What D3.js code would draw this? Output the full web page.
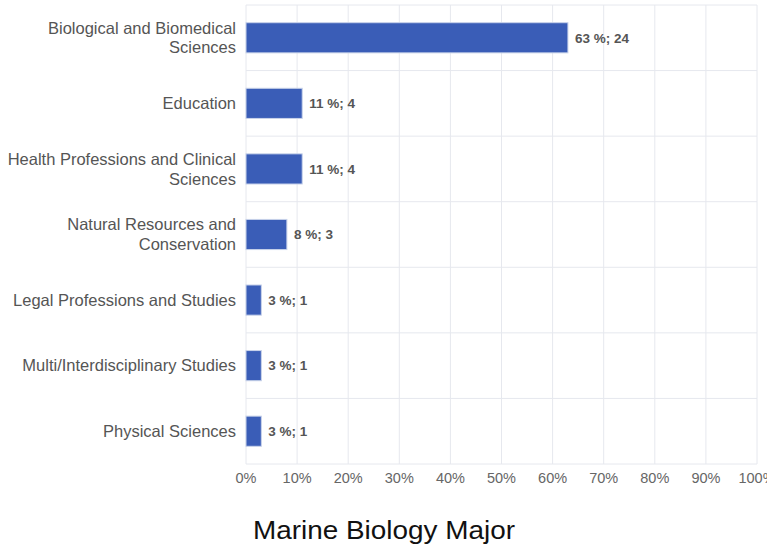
<!DOCTYPE html>
<html><head><meta charset="utf-8">
<script src="https://cdn.jsdelivr.net/npm/d3@7"></script>
<style>body{margin:0;background:#fff;font-family:Arial,"Liberation Sans",sans-serif;}</style>
</head><body><svg id="c" width="767" height="548"></svg>
<script>
const categories = [
  ["Biological and Biomedical","Sciences"],
  ["Education"],
  ["Health Professions and Clinical","Sciences"],
  ["Natural Resources and","Conservation"],
  ["Legal Professions and Studies"],
  ["Multi/Interdisciplinary Studies"],
  ["Physical Sciences"]
];
const percents = [63, 11, 11, 8, 3, 3, 3];
const counts = [24, 4, 4, 3, 1, 1, 1];
const xTicks = [0,10,20,30,40,50,60,70,80,90,100];
const title = "Marine Biology Major";

const svg = d3.select("#c");
const L = 246, R = 757, T = 5, B = 464;
const x = d3.scaleLinear().domain([0,100]).range([L,R]);
const y = d3.scaleBand().domain(d3.range(categories.length)).range([T,B]).paddingInner(0.54).paddingOuter(0.27);

// vertical grid
svg.append("g").selectAll("line").data(xTicks).join("line")
  .attr("x1",d=>x(d)).attr("x2",d=>x(d)).attr("y1",T).attr("y2",B)
  .attr("stroke","#e6e8ee").attr("stroke-width",1);
// horizontal grid at band boundaries
const bounds = d3.range(categories.length+1).map(i=>T + i*(B-T)/categories.length);
svg.append("g").selectAll("line").data(bounds).join("line")
  .attr("x1",L).attr("x2",R).attr("y1",d=>d).attr("y2",d=>d)
  .attr("stroke","#e6e8ee").attr("stroke-width",1);

// bars
svg.append("g").selectAll("rect").data(percents).join("rect")
  .attr("x",L).attr("y",(d,i)=>y(i)).attr("width",d=>x(d)-L).attr("height",y.bandwidth())
  .attr("fill","#3a5db7").attr("stroke","#c9d3ea").attr("stroke-width",1);

// value labels
svg.append("g").selectAll("text").data(percents).join("text")
  .attr("x",d=>x(d)+7).attr("y",(d,i)=>y(i)+y.bandwidth()/2)
  .attr("dy","0.35em").attr("font-size",13.5).attr("font-weight","bold").attr("fill","#555")
  .text((d,i)=>d+" %; "+counts[i]);

// category labels
const cl = svg.append("g").selectAll("text").data(categories).join("text")
  .attr("text-anchor","end").attr("font-size",16.5).attr("fill","#555")
  .attr("x",236)
  .attr("y",(d,i)=>y(i)+y.bandwidth()/2);
cl.each(function(lines){
  const t = d3.select(this);
  const n = lines.length;
  lines.forEach((ln,k)=>{
    t.append("tspan").attr("x",236).attr("dy", k===0 ? ((0.35 - (n-1)*0.6)+"em") : "1.2em").text(ln);
  });
});

// x tick labels
svg.append("g").selectAll("text").data(xTicks).join("text")
  .attr("x",d=>x(d)).attr("y",483).attr("text-anchor","middle")
  .attr("font-size",14.5).attr("fill","#666").text(d=>d+"%");

// title
svg.append("text").attr("x",384).attr("y",539).attr("text-anchor","middle")
  .attr("font-size",25).attr("fill","#111")
  .attr("textLength",262).attr("lengthAdjust","spacingAndGlyphs").text(title);
</script></body></html>
